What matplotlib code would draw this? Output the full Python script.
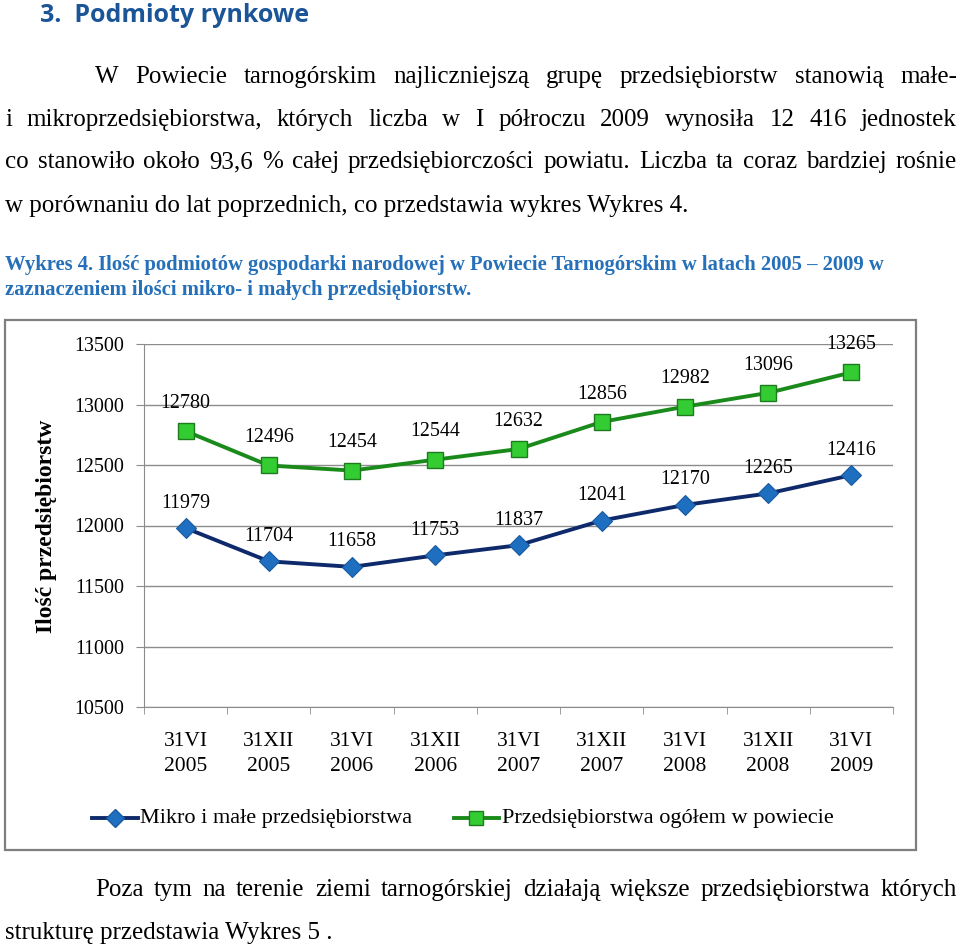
import matplotlib
matplotlib.use("Agg")
import matplotlib.pyplot as plt
from matplotlib.patches import Rectangle
from matplotlib.lines import Line2D

W, H = 960, 948

# chart data
categories = ["31VI\n2005", "31XII\n2005", "31VI\n2006", "31XII\n2006", "31VI\n2007",
              "31XII\n2007", "31VI\n2008", "31XII\n2008", "31VI\n2009"]
mikro = [11979, 11704, 11658, 11753, 11837, 12041, 12170, 12265, 12416]
ogolem = [12780, 12496, 12454, 12544, 12632, 12856, 12982, 13096, 13265]
y_ticks = [10500, 11000, 11500, 12000, 12500, 13000, 13500]
series_names = ["Mikro i małe przedsiębiorstwa", "Przedsiębiorstwa ogółem w powiecie"]

heading = "3.  Podmioty rynkowe"
para1 = [
    "W Powiecie tarnogórskim najliczniejszą grupę przedsiębiorstw stanowią małe-",
    "i mikroprzedsiębiorstwa, których liczba w I półroczu 2009 wynosiła 12 416 jednostek",
    "co stanowiło około 93,6 % całej przedsiębiorczości powiatu. Liczba ta coraz bardziej rośnie",
    "w porównaniu do lat poprzednich, co przedstawia wykres Wykres 4.",
]
caption = [
    "Wykres 4. Ilość podmiotów gospodarki narodowej w Powiecie Tarnogórskim w latach 2005 – 2009 w",
    "zaznaczeniem ilości mikro- i małych przedsiębiorstw.",
]
para2 = [
    "Poza tym na terenie ziemi tarnogórskiej działają większe przedsiębiorstwa których",
    "strukturę przedstawia Wykres 5 .",
]

SERIF = "Liberation Serif"
BLUE_TXT = "#2570b8"
BODY = 18

fig = plt.figure(figsize=(W / 100, H / 100), dpi=100)
renderer = fig.canvas.get_renderer()


def fx(x):
    return x / W


def fy(y):
    return 1 - y / H


def justify(line, x0, x1, y, size):
    # place words one by one so the line fills x0..x1
    words = line.split(" ")
    texts = [fig.text(0, fy(y), w, fontsize=size, family=SERIF, va="center") for w in words]
    widths = [t.get_window_extent(renderer).width for t in texts]
    gap = (x1 - x0 - sum(widths)) / (len(words) - 1)
    x = x0
    for t, wd in zip(texts, widths):
        t.set_x(fx(x))
        x += wd + gap


fig.text(fx(40), fy(16), heading, fontsize=18, family="Open Sans", weight="bold",
         color="#1b5598", va="center")

justify(para1[0], 95, 957, 77, BODY)
justify(para1[1], 5, 957, 120, BODY)
justify(para1[2], 5, 957, 162, BODY)
fig.text(fx(5), fy(206), para1[3], fontsize=BODY, family=SERIF, va="center")

fig.text(fx(5), fy(265), caption[0], fontsize=14.9, family=SERIF, weight="bold",
         color=BLUE_TXT, va="center")
fig.text(fx(5), fy(290), caption[1], fontsize=14.9, family=SERIF, weight="bold",
         color=BLUE_TXT, va="center")

justify(para2[0], 95, 957, 890, BODY)
fig.text(fx(5), fy(933), para2[1], fontsize=BODY, family=SERIF, va="center")

# chart frame
fig.patches.append(Rectangle((fx(5), fy(850)), fx(916) - fx(5), fy(320) - fy(850),
                             transform=fig.transFigure, fill=False, edgecolor="#7f7f7f",
                             linewidth=1.6))

ax = fig.add_axes([fx(144), fy(707), fx(893) - fx(144), fy(344) - fy(707)])
x = list(range(len(categories)))
ax.plot(x, mikro, color="#0f2a6b", lw=2.8, marker="D", ms=10,
        markerfacecolor="#1f6fc0", markeredgecolor="#1a5aa0", markeredgewidth=0.8,
        zorder=3)
ax.plot(x, ogolem, color="#1a8a1a", lw=2.8, marker="s", ms=11,
        markerfacecolor="#33cc33", markeredgecolor="#1e7b1e", markeredgewidth=1,
        zorder=3)

for i, v in enumerate(mikro):
    ax.annotate(str(v), (i, v), xytext=(0, 18), textcoords="offset points",
                ha="center", va="center", fontsize=14.4, family=SERIF)
for i, v in enumerate(ogolem):
    ax.annotate(str(v), (i, v), xytext=(0, 20), textcoords="offset points",
                ha="center", va="center", fontsize=14.4, family=SERIF)

ax.set_xlim(-0.5, len(categories) - 0.5)
ax.set_ylim(y_ticks[0], y_ticks[-1])
ax.set_yticks(y_ticks)
ax.set_yticklabels([str(t) for t in y_ticks], fontsize=14.4, family=SERIF)
ax.set_xticks(x)
ax.set_xticklabels(categories, fontsize=15.5, family=SERIF, linespacing=1.4)
ax.set_xticks([i - 0.5 for i in range(len(categories) + 1)], minor=True)
ax.tick_params(axis="x", which="major", length=0, pad=18)
ax.tick_params(axis="x", which="minor", length=5, color="#8c8c8c", direction="out")
ax.tick_params(axis="y", length=6, color="#8c8c8c", pad=8)
ax.grid(axis="y", color="#8c8c8c", lw=1)
ax.set_axisbelow(True)
for s in ["top", "right"]:
    ax.spines[s].set_visible(False)
ax.spines["left"].set_color("#8c8c8c")
ax.spines["bottom"].set_color("#8c8c8c")

fig.text(fx(47), fy(526), "Ilość przedsiębiorstw", rotation=90, fontsize=17,
         family=SERIF, weight="bold", ha="center", va="center")

# legend drawn by hand so it sits where the reference puts it
leg_y = fy(818)
fig.lines.append(Line2D([fx(92), fx(138)], [leg_y, leg_y], transform=fig.transFigure,
                        color="#0f2a6b", lw=2.8))
fig.lines.append(Line2D([fx(115)], [leg_y], transform=fig.transFigure, marker="D", ms=9,
                        markerfacecolor="#1f6fc0", markeredgecolor="#1a5aa0"))
fig.text(fx(140), leg_y, series_names[0], fontsize=16, family=SERIF, va="center")
fig.lines.append(Line2D([fx(454), fx(499)], [leg_y, leg_y], transform=fig.transFigure,
                        color="#1a8a1a", lw=2.8))
fig.lines.append(Line2D([fx(476)], [leg_y], transform=fig.transFigure, marker="s", ms=10,
                        markerfacecolor="#33cc33", markeredgecolor="#1e7b1e"))
fig.text(fx(502), leg_y, series_names[1], fontsize=16, family=SERIF, va="center")

fig.savefig("out.png", dpi=100)
